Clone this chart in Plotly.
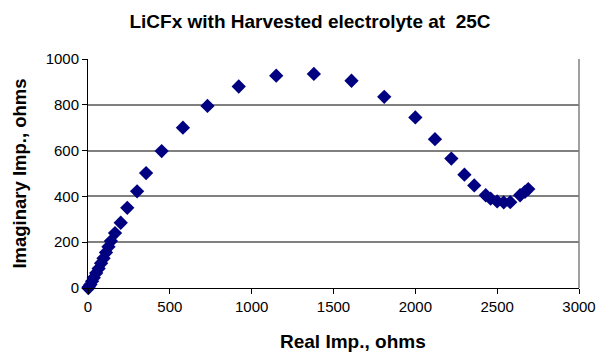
import plotly.graph_objects as go

real_imp = [2, 5, 15, 25, 35, 50, 65, 80, 95, 110, 125, 140, 165, 200, 240, 300, 355, 450, 580, 730,
            921, 1150, 1380, 1610, 1810, 2000, 2120, 2220, 2300, 2360, 2430, 2460, 2500, 2540, 2580,
            2640, 2670, 2690]
imag_imp = [0, 5, 15, 30, 45, 65, 85, 108, 130, 155, 180, 205, 240, 285, 350, 422, 502, 598, 700, 795,
            880, 927, 935, 905, 835, 745, 650, 565, 495, 448, 405, 390, 378, 374, 375,
            405, 420, 432]

x_ticks = [0, 500, 1000, 1500, 2000, 2500, 3000]
y_ticks = [0, 200, 400, 600, 800, 1000]

fig = go.Figure()
fig.add_trace(go.Scatter(
    x=real_imp, y=imag_imp, mode="markers",
    marker=dict(symbol="diamond", size=11, color="#000080"),
    showlegend=False, cliponaxis=False,
))

font = "Liberation Sans, Arial, sans-serif"
fig.add_shape(type="line", xref="x domain", yref="y domain", x0=1, x1=1, y0=0, y1=1,
              line=dict(color="#808080", width=1.5), layer="below")
fig.add_annotation(text="<b>Real Imp., ohms</b>", xref="paper", yref="paper",
                   x=322 / 597, y=-(341 - 288) / 229, xanchor="center", yanchor="middle",
                   showarrow=False, font=dict(size=19, family=font, color="black"))
fig.update_layout(
    width=597, height=352,
    margin=dict(l=88, r=18, t=59, b=64),
    paper_bgcolor="white", plot_bgcolor="white",
    font=dict(family=font, size=15, color="black"),
    title=dict(text="<b>LiCFx with Harvested electrolyte at  25C</b>",
               x=310 / 597, xanchor="center", y=1 - 21 / 352, yanchor="middle",
               font=dict(size=19, family=font)),
    xaxis=dict(range=[0, 3000], tickvals=x_ticks, showgrid=False, zeroline=False,
               showline=True, linecolor="black", linewidth=1, automargin=False,
               ticks="outside", ticklen=5, tickcolor="black"),
    yaxis=dict(range=[0, 1000], tickvals=y_ticks, showgrid=True, gridcolor="#808080",
               gridwidth=1.5, zeroline=False, automargin=False,
               showline=True, linecolor="black", linewidth=1,
               ticks="outside", ticklen=5, tickcolor="black",
               title=dict(text="<b>Imaginary Imp., ohms</b>", font=dict(size=18.5), standoff=14)),
)

fig.write_html("out.html", config={"displayModeBar": False},
               post_script="document.body.style.margin='0';")
